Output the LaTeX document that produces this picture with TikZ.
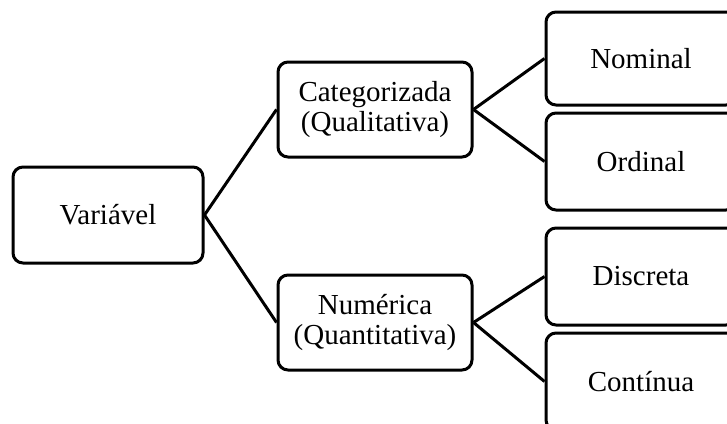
\documentclass[tikz,border=0pt]{standalone}
\usepackage{fontspec}
\setmainfont{Liberation Serif}
\tikzset{
  caixa/.style={draw, line width=1.5pt, rounded corners=5pt, align=center,
    font=\fontsize{14.5}{14.8}\selectfont, inner sep=0pt},
  liga/.style={line width=1.5pt}
}
\begin{document}
\begin{tikzpicture}[x=0.5pt,y=-0.5pt]
\path[use as bounding box, clip] (0,0) rectangle (727,423);
\node[caixa, minimum width=95pt, minimum height=48pt] (var) at (108,215) {Variável};
\node[caixa, minimum width=97pt, minimum height=47.5pt] (cat) at (375,109.5) {Categorizada\\(Qualitativa)};
\node[caixa, minimum width=97pt, minimum height=47.5pt] (num) at (375,322.5) {Numérica\\(Quantitativa)};
\node[caixa, minimum width=95pt, minimum height=46.5pt] (nom) at (641,58.5) {Nominal};
\node[caixa, minimum width=95pt, minimum height=48.5pt] (ord) at (641,161.5) {Ordinal};
\node[caixa, minimum width=95pt, minimum height=48.5pt] (dis) at (641,276.5) {Discreta};
\node[caixa, minimum width=95pt, minimum height=48.5pt] (con) at (641,381.5) {Contínua};
\draw[liga] (var.east)--(cat.west);
\draw[liga] (var.east)--(num.west);
\draw[liga] (cat.east)--(nom.west);
\draw[liga] (cat.east)--(ord.west);
\draw[liga] (num.east)--(dis.west);
\draw[liga] (num.east)--(con.west);
\end{tikzpicture}
\end{document}
